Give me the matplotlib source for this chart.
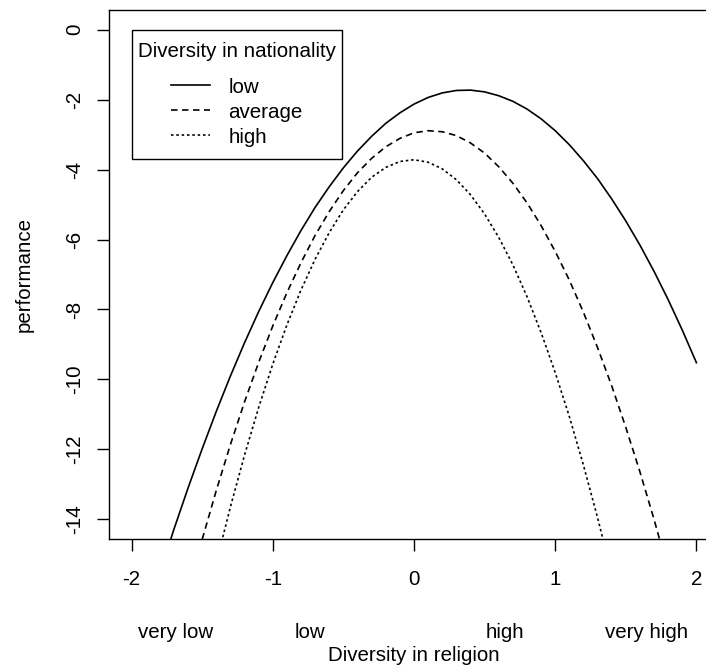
import numpy as np
import matplotlib.pyplot as plt
from matplotlib.offsetbox import DrawingArea

plt.rcParams['font.family'] = ['Liberation Sans', 'DejaVu Sans']
plt.rcParams['font.size'] = 14.8
plt.rcParams['axes.unicode_minus'] = False

# values
x = [-2.0, -1.9, -1.8, -1.7, -1.6, -1.5, -1.4, -1.3, -1.2, -1.1,
     -1.0, -0.9, -0.8, -0.7, -0.6, -0.5, -0.4, -0.3, -0.2, -0.1,
     0.0, 0.1, 0.2, 0.3, 0.4, 0.5, 0.6, 0.7, 0.8, 0.9,
     1.0, 1.1, 1.2, 1.3, 1.4, 1.5, 1.6, 1.7, 1.8, 1.9, 2.0]
perf_low = [-18.19, -16.83, -15.53, -14.28, -13.10, -11.98, -10.91, -9.90, -8.95, -8.06,
            -7.23, -6.46, -5.74, -5.08, -4.49, -3.95, -3.47, -3.05, -2.68, -2.38,
            -2.13, -1.94, -1.81, -1.74, -1.73, -1.78, -1.89, -2.05, -2.27, -2.55,
            -2.89, -3.29, -3.75, -4.26, -4.84, -5.47, -6.16, -6.91, -7.72, -8.59, -9.52]
perf_avg = [-22.89, -21.05, -19.29, -17.63, -16.05, -14.57, -13.17, -11.86, -10.64, -9.51,
            -8.47, -7.52, -6.66, -5.88, -5.20, -4.60, -4.09, -3.68, -3.35, -3.11,
            -2.95, -2.89, -2.92, -3.03, -3.24, -3.53, -3.92, -4.39, -4.95, -5.60,
            -6.34, -7.16, -8.08, -9.09, -10.18, -11.37, -12.64, -14.00, -15.45, -16.99, -18.62]
perf_high = [-27.32, -25.01, -22.82, -20.74, -18.79, -16.95, -15.24, -13.64, -12.16, -10.80,
             -9.56, -8.44, -7.44, -6.56, -5.80, -5.15, -4.63, -4.22, -3.94, -3.77,
             -3.72, -3.79, -3.98, -4.29, -4.72, -5.27, -5.94, -6.72, -7.63, -8.66,
             -9.80, -11.06, -12.45, -13.95, -15.57, -17.31, -19.17, -21.15, -23.25, -25.46, -27.80]
group_labels = ['low', 'average', 'high']
level_labels = ['very low', 'low', 'high', 'very high']
level_pos = [-1.69, -0.74, 0.645, 1.645]

W, H = 706, 666
fig = plt.figure(figsize=(W / 100, H / 100), dpi=100)
ax = fig.add_axes([109 / W, 1 - 539 / H, (719 - 109) / W, (539 - 10) / H])

styles = ['-', (0, (3.9, 2.7)), (0, (1.5, 1.7))]
for y, ls, lab in zip([perf_low, perf_avg, perf_high], styles, group_labels):
    ax.plot(x, y, color='black', lw=1.2, ls=ls, label=lab)

ax.set_xlim(-2.16, 2.16)
ax.set_ylim(-14.56, 0.56)
ax.set_xticks([-2, -1, 0, 1, 2])
ax.set_yticks(np.arange(0, -15, -2))
ax.tick_params(direction='out', length=8.6, width=1.0, color='black')
ax.tick_params(axis='x', pad=14)
ax.tick_params(axis='y', pad=9.5)
for t in ax.get_yticklabels():
    t.set_rotation(90)
    t.set_va('center')
for s in ax.spines.values():
    s.set_linewidth(1.0)

ax.set_ylabel('performance', labelpad=22.5)
ax.set_xlabel('Diversity in religion', labelpad=41)

for p, lab in zip(level_pos, level_labels):
    ax.text(p, -0.176, lab, transform=ax.get_xaxis_transform(),
            ha='center', va='center')

leg = ax.legend(title='Diversity in nationality', loc='upper left',
                bbox_to_anchor=(-2, 0), bbox_transform=ax.transData,
                borderaxespad=0, fancybox=False, framealpha=1,
                edgecolor='black', handlelength=1.9, handletextpad=0.9,
                borderpad=0.3, labelspacing=0.29, alignment='center')
leg.get_frame().set_linewidth(1.0)
leg.get_title().set_fontsize(14.8)
# extra room around the title, as in the R legend
box = leg._legend_box
box._children = [DrawingArea(0, 4.5), leg._legend_title_box, DrawingArea(0, 12),
                 leg._legend_handle_box, DrawingArea(0, 4.5)]
box.sep = 0

fig.savefig('out.png', dpi=100)
